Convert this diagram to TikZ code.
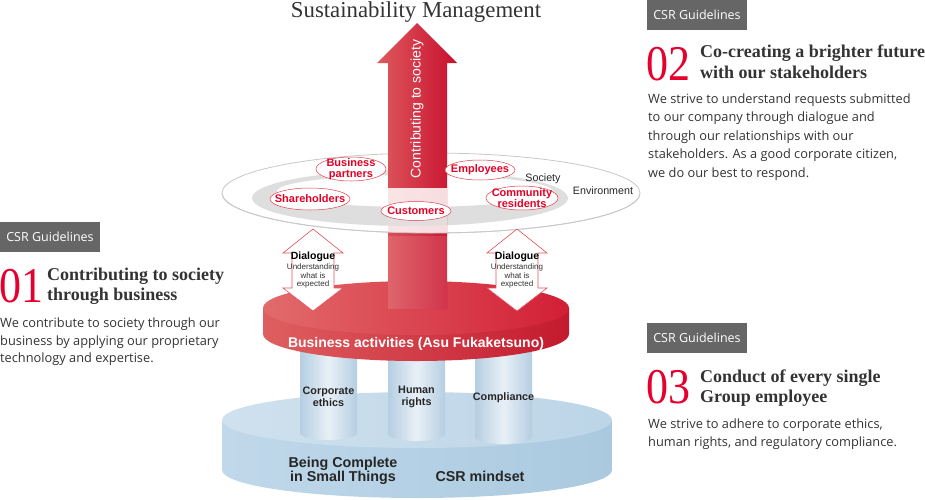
\documentclass[tikz,border=0pt]{standalone}
\usepackage{fontspec}
\setmainfont{Liberation Serif}
\newfontfamily\bodyfont{Open Sans}
\newfontfamily\diafont{Liberation Sans}
\definecolor{redtxt}{HTML}{E60026}
\definecolor{labline}{HTML}{E0404A}
\definecolor{numc}{HTML}{E5002D}
\definecolor{headc}{HTML}{333333}
\definecolor{bodyc}{HTML}{333333}
\definecolor{titlec}{HTML}{333333}
\definecolor{boxc}{HTML}{666666}
\definecolor{arrowL}{HTML}{DE5A5E}
\definecolor{arrowR}{HTML}{C8102E}
\definecolor{diskTopL}{HTML}{E26B6B}
\definecolor{diskTopR}{HTML}{D21F35}
\definecolor{diskSideL}{HTML}{DE5F60}
\definecolor{diskSideR}{HTML}{C41A2E}
\definecolor{ringline}{HTML}{C8C8C8}
\definecolor{bandc}{HTML}{DEDEDE}
\definecolor{blueTopL}{HTML}{CFE1EE}
\definecolor{blueTopR}{HTML}{BCD5E7}
\definecolor{blueSideL}{HTML}{C0D8EA}
\definecolor{blueSideR}{HTML}{AAC9DF}
\definecolor{pilE}{HTML}{B5CEE2}
\definecolor{pilM}{HTML}{E8F0F6}
\definecolor{dlgline}{HTML}{E8505A}
\tikzset{
  headtxt/.style={font=\bfseries\fontsize{18}{20}\selectfont, text=headc, inner sep=0pt, anchor=base west},
  bodytxt/.style={font=\bodyfont\fontsize{12.8}{15}\selectfont, text=bodyc, inner sep=0pt, anchor=base west},
  numtxt/.style={font=\fontsize{50}{50}\selectfont, text=numc, inner sep=0pt, anchor=base west},
  gbox/.style={fill=boxc, draw=none, minimum width=100pt, minimum height=30pt, inner sep=0pt,
    font=\bodyfont\fontsize{12.5}{14}\selectfont, text=white},
  lab/.style={font=\diafont\bfseries\fontsize{11}{10.8}\selectfont, text=redtxt, align=center, inner sep=0pt},
  labring/.style={draw=labline, fill=white, line width=0.5pt},
  dlg/.style={draw=dlgline, fill=white, line width=0.6pt},
  dlgtitle/.style={font=\diafont\bfseries\fontsize{10.5}{10}\selectfont, text=black, inner sep=0pt},
  dlgsub/.style={font=\diafont\fontsize{8}{8.3}\selectfont, text=black!80, align=center, inner sep=0pt},
  pilltxt/.style={font=\diafont\bfseries\fontsize{10.8}{12}\selectfont, text=black!85, align=center, inner sep=0pt},
  basetxt/.style={font=\diafont\bfseries\fontsize{14.3}{14.5}\selectfont, text=black!85, align=center, inner sep=0pt},
  ringtxt/.style={font=\diafont\fontsize{10.7}{10}\selectfont, text=black!85, inner sep=0pt},
}
\newcommand\redlab[6]{%
  \coordinate (#1c) at (#2,#3);
  \draw[labring] (#1c) ellipse[x radius=#4pt, y radius=#5pt];
  \node[lab] (#1) at (#1c) {#6};}
\newcommand\dlgarrow[2]{%
  \draw[dlg] (#1,229) -- (#1+30,253) -- (#1+21,253) -- (#1+21,288) -- (#1+30,288)
    -- (#1,311) -- (#1-30,288) -- (#1-21,288) -- (#1-21,253) -- (#1-30,253) -- cycle;
  \node[dlgtitle] (#2t) at (#1,257) {Dialogue};
  \node[dlgsub] (#2s) at (#1,276) {Understanding\\what is\\expected};}
\begin{document}
\begin{tikzpicture}[x=1pt,y=-1pt]
\useasboundingbox (0,0) rectangle (925,499);
% ---- blue base disk
\shade[left color=blueSideL, right color=blueSideR] (222,420) -- (222,470)
  arc[start angle=180, end angle=360, x radius=195pt, y radius=28pt] -- (612,420) -- cycle;
\shade[left color=blueTopL, right color=blueTopR] (417,420) ellipse[x radius=195pt, y radius=28pt];
% ---- pillars
\foreach \cx/\by in {328.5/433, 416.5/434, 503.5/437}{
  \shade[left color=pilE, right color=pilE, middle color=pilM] (\cx-28.5,330) -- (\cx-28.5,\by)
    arc[start angle=180, end angle=360, x radius=28.5pt, y radius=7pt] -- (\cx+28.5,330) -- cycle;
}
% ---- red disk
\shade[left color=diskSideL, right color=diskSideR] (263,308) -- (263,334)
  arc[start angle=180, end angle=360, x radius=153pt, y radius=27pt] -- (569,308) -- cycle;
\shade[left color=diskTopL, right color=diskTopR] (416,308) ellipse[x radius=153pt, y radius=27pt];
% ---- ring (back)
\draw[ringline, fill=white, line width=0.8pt] (431,193) ellipse[x radius=209pt, y radius=40pt];
\fill[bandc, even odd rule] (410,198) ellipse[x radius=158pt, y radius=28pt]
  (415,191) ellipse[x radius=138pt, y radius=16pt];
% ---- big arrow
\shade[left color=arrowL, right color=arrowR] (417,23) -- (457,63) -- (447,63) -- (447,309)
  -- (388,309) -- (388,63) -- (377,63) -- cycle;
\fill[white, opacity=0.12] (388,236) rectangle (447,309);
\node[rotate=90, font=\diafont\fontsize{14}{14}\selectfont, text=white, inner sep=0pt] (ctext) at (417,109) {Contributing to society};
% ---- ring (front part over arrow)
\begin{scope}
  \clip (431,193) ellipse[x radius=209pt, y radius=40pt];
  \fill[white, opacity=0.85] (388,188) rectangle (447,240);
\end{scope}
\begin{scope}
  \clip (388,188) rectangle (447,240);
  \fill[bandc, opacity=0.8, even odd rule] (410,198) ellipse[x radius=158pt, y radius=28pt]
    (415,191) ellipse[x radius=138pt, y radius=16pt];
\end{scope}
\draw[ringline, line width=0.8pt] (222,193) arc[start angle=180, end angle=360, x radius=209pt, y radius=40pt];
% ---- stakeholder labels
\redlab{bp}{351}{169}{35}{12}{Business\\partners}
\redlab{sh}{310}{199}{40}{11}{Shareholders}
\redlab{em}{480}{170}{35}{10}{Employees}
\redlab{cu}{416}{211}{35}{9.5}{Customers}
\redlab{cr}{522}{198}{36}{12}{Community\\residents}
\node[ringtxt] (soc) at (543,179) {Society};
\node[ringtxt] (env) at (603,191) {Environment};
% ---- dialogue arrows
\dlgarrow{313}{dl}
\dlgarrow{517}{dr}
% ---- disk / pillar / base texts
\node[font=\diafont\bfseries\fontsize{14}{14}\selectfont, text=white, inner sep=0pt] (ba) at (416,344) {Business activities (Asu Fukaketsuno)};
\node[pilltxt] (pe) at (328.5,397) {Corporate\\ethics};
\node[pilltxt] (ph) at (416.5,397) {Human\\rights};
\node[pilltxt] (pc) at (503.5,398) {Compliance};
\node[basetxt] (bc) at (343,471) {Being Complete\\in Small Things};
\node[basetxt] (cm) at (480,476) {CSR mindset};
% ---- title
\node[font=\fontsize{22.8}{23}\selectfont, text=titlec, anchor=base, inner sep=0pt] (title) at (416,17) {Sustainability Management};
% ---- guideline 01
\node[gbox] (g1) at (50,237) {CSR Guidelines};
\node[numtxt] (n1) at (-1,302) {\scalebox{0.88}[1]{01}};
\node[headtxt] (h1a) at (47,280) {Contributing to society};
\node[headtxt] (h1b) at (47,300) {through business};
\node[bodytxt] (t1a) at (0,327) {We contribute to society through our};
\node[bodytxt] (t1b) at (0,345) {business by applying our proprietary};
\node[bodytxt] (t1c) at (0,362) {technology and expertise.};
% ---- guideline 02
\node[gbox] (g2) at (697,15) {CSR Guidelines};
\node[numtxt] (n2) at (646,80) {\scalebox{0.88}[1]{02}};
\node[headtxt] (h2a) at (700,57) {Co-creating a brighter future};
\node[headtxt] (h2b) at (700,78) {with our stakeholders};
\node[bodytxt] (t2a) at (648,103) {We strive to understand requests submitted};
\node[bodytxt] (t2b) at (648,121.5) {to our company through dialogue and};
\node[bodytxt] (t2c) at (648,140) {through our relationships with our};
\node[bodytxt] (t2d) at (648,158.5) {stakeholders. As a good corporate citizen,};
\node[bodytxt] (t2e) at (648,177) {we do our best to respond.};
% ---- guideline 03
\node[gbox] (g3) at (697,338) {CSR Guidelines};
\node[numtxt] (n3) at (646,403) {\scalebox{0.88}[1]{03}};
\node[headtxt] (h3a) at (700,382) {Conduct of every single};
\node[headtxt] (h3b) at (700,402) {Group employee};
\node[bodytxt] (t3a) at (648,428) {We strive to adhere to corporate ethics,};
\node[bodytxt] (t3b) at (648,446) {human rights, and regulatory compliance.};
\end{tikzpicture}
\end{document}
